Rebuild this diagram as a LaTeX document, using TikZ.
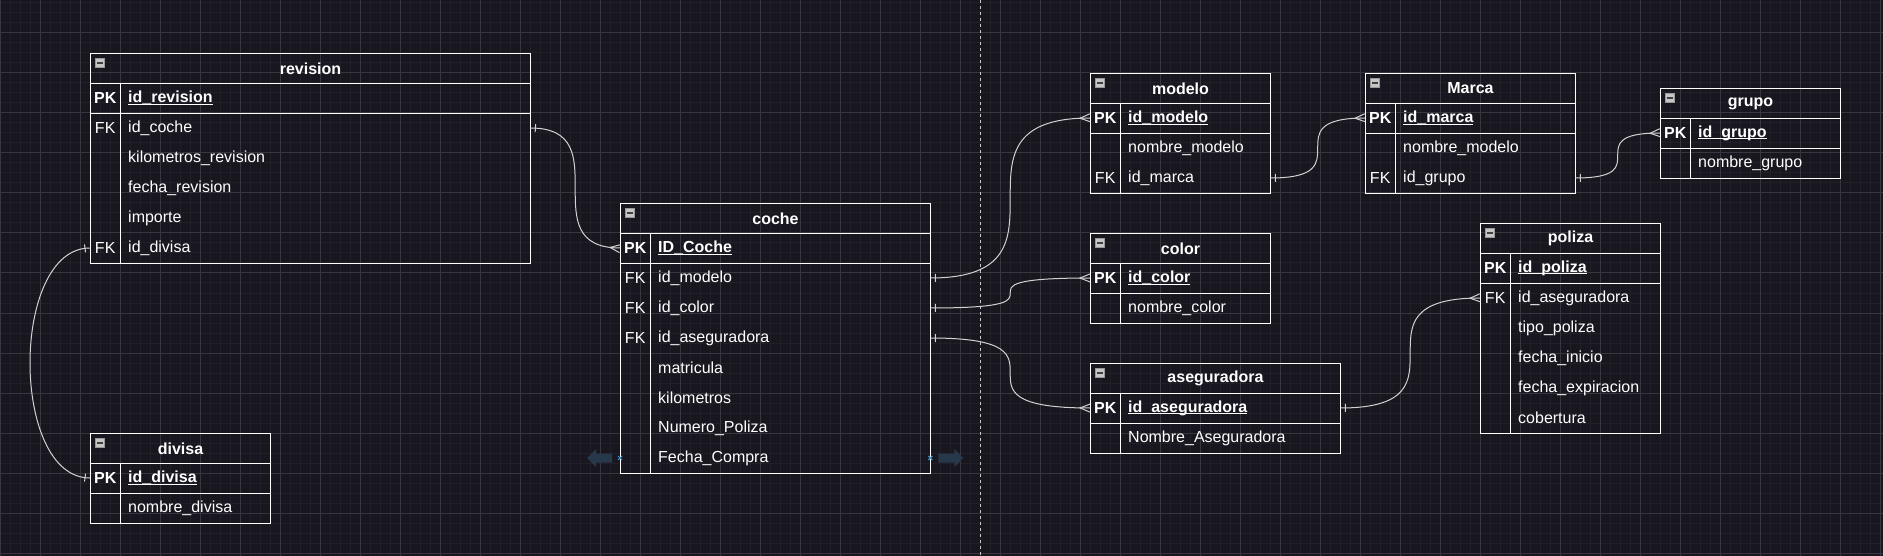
\documentclass[tikz,border=0pt]{standalone}
\usepackage{fontspec}
\setmainfont{Liberation Sans}
\usepackage{tikz}
\usetikzlibrary{arrows.meta, positioning, calc, decorations.markings}

\definecolor{canvas}{HTML}{18171F}
\definecolor{gridminor}{HTML}{221F29}
\definecolor{gridmajor}{HTML}{38363F}
\definecolor{relgray}{HTML}{D2D2D2}
\definecolor{pagedash}{HTML}{C8C8C8}
\definecolor{hoverblue}{RGB}{40,56,75}
\definecolor{hoverx}{RGB}{64,150,210}

% underline close to the baseline, as the editor draws it
\newcommand\pkname[1]{\underline{\smash{#1}}\vphantom{#1}}

\begin{document}
\begin{tikzpicture}[
    x=1pt, y=-1pt,
    every node/.style={font=\fontsize{16}{19}\selectfont, text=white, inner sep=0pt},
    cell/.style={draw=white, line width=1pt, anchor=north west, minimum height=30},
    hdr/.style={cell, font=\fontsize{16}{19}\selectfont\bfseries},
    icon/.style={draw=gray!80, fill=gray!45, line width=0.8pt, minimum size=9, anchor=north west},
    keytxt/.style={anchor=west, minimum width=30, minimum height=30},
    fieldtxt/.style={anchor=west, align=left, inner xsep=8pt, inner ysep=0pt, minimum height=30},
    rel/.style={draw=relgray, line width=1pt},
    erlink/.style={to path={.. controls (\tikztotarget |- \tikztostart) and (\tikztostart |- \tikztotarget) .. (\tikztotarget)}},
    one start/.style={postaction={decorate, decoration={markings,
        mark=at position 5pt with {\draw[rel] (0,-4) -- (0,4);}}}},
    one end/.style={postaction={decorate, decoration={markings,
        mark=at position -5pt with {\draw[rel] (0,-4) -- (0,4);}}}},
    many end/.style={postaction={decorate, decoration={markings,
        mark=at position -10pt with {\draw[rel] (10,-4) -- (0,0) -- (10,4);}}}}
]

% Canvas and grid
\fill[canvas] (0,0) rectangle (1883,556);
\useasboundingbox (0,0) rectangle (1883,556);
\foreach \gx in {0,10,...,1880} \draw[gridminor, line width=1pt] (\gx,0) -- (\gx,556);
\foreach \gy in {3,13,...,553} \draw[gridminor, line width=1pt] (0,\gy) -- (1883,\gy);
\foreach \gx in {0,40,...,1880} \draw[gridmajor, line width=1pt] (\gx,0) -- (\gx,556);
\foreach \gy in {33,73,...,553} \draw[gridmajor, line width=1pt] (0,\gy) -- (1883,\gy);

% Page break line
\draw[pagedash, line width=1pt, dash pattern=on 3pt off 3pt] (980,0) -- (980,556);

% Tables: name/x/y/width/primary key/number of rows/{key/field, ...}
\foreach \tname/\tx/\ty/\tw/\pk/\nrows/\rows in {
    revision/90/53/440/id\_revision/5/{FK/id\_coche, /kilometros\_revision, /fecha\_revision, /importe, FK/id\_divisa},
    coche/620/203/310/ID\_Coche/7/{FK/id\_modelo, FK/id\_color, FK/id\_aseguradora, /matricula, /kilometros, /Numero\_Poliza, /Fecha\_Compra},
    divisa/90/433/180/id\_divisa/1/{/nombre\_divisa},
    modelo/1090/73/180/id\_modelo/2/{/nombre\_modelo, FK/id\_marca},
    Marca/1365/73/210/id\_marca/2/{/nombre\_modelo, FK/id\_grupo},
    grupo/1660/88/180/id\_grupo/1/{/nombre\_grupo},
    color/1090/233/180/id\_color/1/{/nombre\_color},
    aseguradora/1090/363/250/id\_aseguradora/1/{/Nombre\_Aseguradora},
    poliza/1480/223/180/id\_poliza/5/{FK/id\_aseguradora, /tipo\_poliza, /fecha\_inicio, /fecha\_expiracion, /cobertura}} {

    \pgfmathsetmacro\tfw{\tw-46}

    % Header with collapse icon
    \node[hdr, minimum width=\tw] (\tname) at (\tx,\ty) {\tname};
    \node[icon] (\tname-icon) at (\tx+5,\ty+5) {};
    \draw[black!75, line width=1.5pt] ([xshift=2pt]\tname-icon.west) -- ([xshift=-2pt]\tname-icon.east);

    % Frame: key row, body, key column
    \node[cell, minimum width=\tw] (\tname-pkrow) at (\tx,\ty+30) {};
    \node[cell, minimum width=\tw, minimum height=30*\nrows] (\tname-body) at (\tx,\ty+60) {};
    \node[cell, minimum width=30, minimum height=30*\nrows+30] (\tname-keycol) at (\tx,\ty+30) {};

    % Primary key
    \node[keytxt, font=\fontsize{16}{19}\selectfont\bfseries] (\tname-pkkey) at (\tx,\ty+45) {PK};
    \node[fieldtxt, text width=\tfw pt, font=\fontsize{16}{19}\selectfont\bfseries] (\tname-pk) at (\tx+30,\ty+45) {\pkname{\pk}};

    % Other fields
    \foreach \kk/\fld [count=\i] in \rows {
        \node[keytxt] (\tname-k\i) at (\tx,\ty+45+30*\i) {\kk};
        \node[fieldtxt, text width=\tfw pt] (\tname-row\i) at (\tx+30,\ty+45+30*\i) {\fld};
    }
}

% Relations
\draw[rel, erlink, one start, many end] (revision-row1.east) to (coche-pkkey.west);
\draw[rel, one start, one end] (revision-k5.west) .. controls +(-80,0) and +(-80,0) .. (divisa-pkkey.west);
\draw[rel, erlink, one start, many end] (coche-row1.east) to (modelo-pkkey.west);
\draw[rel, erlink, one start, many end] (coche-row2.east) to (color-pkkey.west);
\draw[rel, erlink, one start, many end] (coche-row3.east) to (aseguradora-pkkey.west);
\draw[rel, erlink, one start, many end] (modelo-row2.east) to (Marca-pkkey.west);
\draw[rel, erlink, one start, many end] (Marca-row2.east) to (grupo-pkkey.west);
\draw[rel, erlink, one start, many end] (aseguradora-pk.east) to (poliza-k1.west);

% Hover arrows on coche
\begin{scope}[shift={(coche-k7.west)}]
    \fill[hoverblue] (-33,0) -- (-24,-9) -- (-24,-4.5) -- (-8,-4.5) -- (-8,4.5) -- (-24,4.5) -- (-24,9) -- cycle;
    \draw[hoverx, line width=1pt] (-2,-2) -- (2,2) (-2,2) -- (2,-2);
\end{scope}
\begin{scope}[shift={(coche-row7.east)}]
    \fill[hoverblue] (33,0) -- (24,-9) -- (24,-4.5) -- (8,-4.5) -- (8,4.5) -- (24,4.5) -- (24,9) -- cycle;
    \draw[hoverx, line width=1pt] (-2,-2) -- (2,2) (-2,2) -- (2,-2);
\end{scope}

\end{tikzpicture}
\end{document}
